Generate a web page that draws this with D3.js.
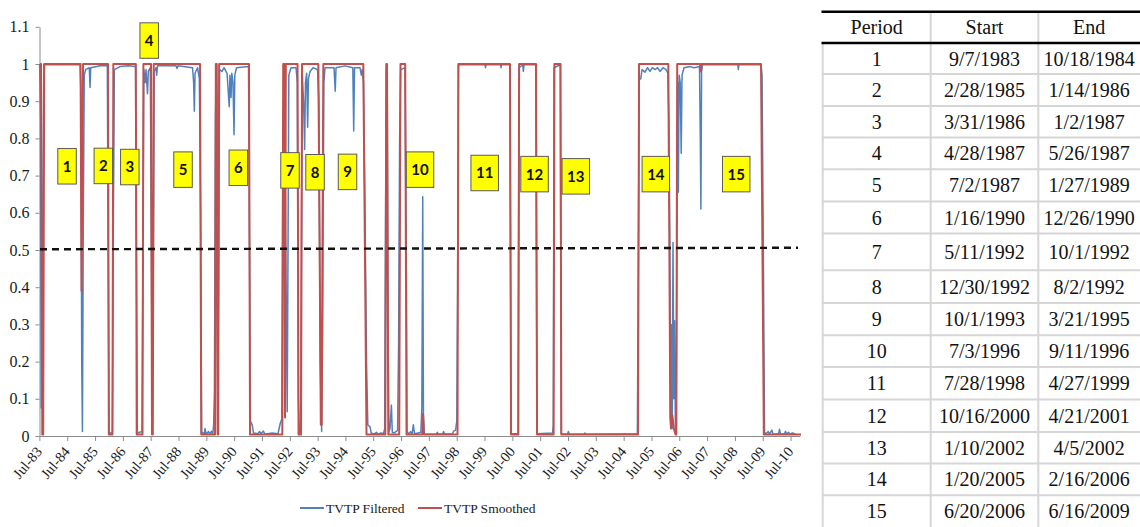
<!DOCTYPE html>
<html><head><meta charset="utf-8">
<script src="https://cdn.jsdelivr.net/npm/d3@7"></script>
<style>body{margin:0;background:#fff}svg{display:block}</style>
</head><body>
<svg id="c" width="1140" height="527"></svg>
<script>
// ---------- data ----------
const yTicks = [0,0.1,0.2,0.3,0.4,0.5,0.6,0.7,0.8,0.9,1,1.1];
const yTickLabels = ["0","0.1","0.2","0.3","0.4","0.5","0.6","0.7","0.8","0.9","1","1.1"];
const xTickYears = [1983,1984,1985,1986,1987,1988,1989,1990,1991,1992,1993,1994,1995,1996,1997,1998,1999,2000,2001,2002,2003,2004,2005,2006,2007,2008,2009,2010];
const xTickLabels = ["Jul-83","Jul-84","Jul-85","Jul-86","Jul-87","Jul-88","Jul-89","Jul-90","Jul-91","Jul-92","Jul-93","Jul-94","Jul-95","Jul-96","Jul-97","Jul-98","Jul-99","Jul-00","Jul-01","Jul-02","Jul-03","Jul-04","Jul-05","Jul-06","Jul-07","Jul-08","Jul-09","Jul-10"];
const xDomainYears = [1983.5, 2010.836];
const seriesNames = ["TVTP Filtered","TVTP Smoothed"];
const seriesColors = ["#4F81BD","#C0504D"];

// [decimal year, probability]
const filtered = [
[1983.504,1],[1983.536,0.84],[1983.561,0.075],[1983.608,0.5],[1983.655,0.998],
[1984.956,0.998],[1984.985,0.93],[1985.017,0.19],[1985.042,0.012],[1985.074,0.6],[1985.107,0.97],[1985.154,0.985],[1985.290,0.99],[1985.315,0.937],[1985.340,0.99],[1985.675,0.995],[1985.937,0.995],[1985.973,0.4],[1985.998,0.006],
[1986.120,0.01],[1986.156,0.6],[1986.189,0.985],[1986.394,0.993],[1986.681,0.995],[1986.951,0.993],[1986.990,0.4],[1987.016,0.008],
[1987.184,0.012],[1987.220,0.5],[1987.249,0.985],[1987.299,0.95],[1987.328,0.985],[1987.382,0.92],[1987.411,0.98],[1987.483,0.99],[1987.522,0.5],[1987.555,0.02],[1987.587,0.4],[1987.623,0.98],
[1987.688,0.99],[1987.713,0.97],[1987.742,0.995],[1988.407,0.995],[1988.442,0.988],[1988.478,0.995],[1989.000,0.99],[1989.039,0.95],[1989.064,0.873],[1989.090,0.975],[1989.179,0.99],[1989.244,0.96],[1989.291,0.6],[1989.327,0.01],
[1989.424,0.006],[1989.449,0.02],[1989.485,0.005],[1989.575,0.012],[1989.629,0.005],[1989.683,0.013],[1989.726,0.005],[1989.758,0.03],[1989.787,0.12],[1989.823,0.85],[1989.855,0.99],[1989.877,0.9],[1989.909,0.03],[1989.938,0.5],[1989.970,0.985],
[1990.060,0.98],[1990.132,0.99],[1990.240,0.975],[1990.319,0.885],[1990.344,0.97],[1990.384,0.91],[1990.412,0.975],[1990.455,0.95],[1990.491,0.81],[1990.520,0.97],[1990.581,0.99],[1991.013,0.993],[1991.049,0.5],[1991.081,0.04],
[1991.146,0.03],[1991.192,0.008],[1991.354,0.006],[1991.408,0.012],[1991.462,0.006],[1991.545,0.013],[1991.606,0.005],[1991.857,0.008],[1992.073,0.006],[1992.156,0.035],[1992.210,0.045],
[1992.253,0.85],[1992.296,0.96],[1992.353,0.5],[1992.404,0.065],[1992.432,0.5],[1992.461,0.97],[1992.540,0.99],[1992.720,0.99],[1992.767,0.95],[1992.803,0.1],[1992.835,0.008],[1992.885,0.012],
[1992.918,0.6],[1992.946,0.97],[1992.990,0.9],[1993.029,0.77],[1993.058,0.95],[1993.101,0.975],[1993.137,0.83],[1993.166,0.96],[1993.223,0.98],[1993.331,0.99],[1993.493,0.985],[1993.540,0.9],[1993.590,0.2],[1993.640,0.012],[1993.676,0.3],[1993.719,0.95],
[1993.762,0.99],[1994.086,0.99],[1994.129,0.927],[1994.158,0.99],[1994.481,0.995],[1994.762,0.99],[1994.794,0.82],[1994.823,0.99],[1995.020,0.99],[1995.067,0.97],[1995.103,0.985],[1995.146,0.95],[1995.200,0.6],[1995.254,0.2],[1995.301,0.03],
[1995.380,0.025],[1995.423,0.008],[1995.524,0.005],[1995.613,0.01],[1995.667,0.004],[1995.775,0.008],[1995.865,0.006],[1995.908,0.02],[1995.941,0.6],[1995.969,0.99],[1995.998,0.98],[1996.027,0.3],[1996.056,0.01],
[1996.099,0.02],[1996.149,0.083],[1996.181,0.01],[1996.243,0.008],[1996.314,0.012],[1996.372,0.015],[1996.408,0.25],[1996.444,0.8],[1996.480,0.985],[1996.638,0.99],[1996.681,0.5],[1996.710,0.012],
[1996.782,0.005],[1996.836,0.012],[1996.890,0.005],[1996.936,0.03],[1996.979,0.006],[1997.105,0.008],[1997.206,0.01],[1997.242,0.075],[1997.274,0.643],[1997.299,0.06],[1997.332,0.005],
[1997.770,0.005],[1997.799,0.01],[1997.831,0.005],[1997.997,0.006],[1998.022,0.012],[1998.058,0.005],[1998.345,0.006],[1998.381,0.013],[1998.453,0.015],[1998.500,0.04],[1998.529,0.4],[1998.557,0.998],
[1999.514,0.998],[1999.532,0.99],[1999.550,0.998],[2000.071,0.998],[2000.089,0.99],[2000.107,0.998],[2000.405,0.998],[2000.455,0.006],[2000.700,0.006],[2000.736,0.99],[2000.872,0.998],[2000.890,0.98],[2000.915,0.998],[2001.340,0.998],[2001.383,0.006],
[2001.940,0.008],[2001.969,0.03],[2001.994,0.99],[2002.220,0.998],[2002.253,0.006],[2002.479,0.005],[2002.508,0.012],[2002.544,0.005],[2003.072,0.005],[2003.108,0.008],[2003.144,0.005],[2004.988,0.006],
[2005.020,0.4],[2005.056,0.96],[2005.110,0.96],[2005.157,0.985],[2005.265,0.978],[2005.355,0.99],[2005.444,0.98],[2005.527,0.99],[2005.624,0.985],[2005.714,0.99],[2005.804,0.98],[2005.912,0.99],[2006.020,0.985],[2006.084,0.975],
[2006.120,0.85],[2006.156,0.52],[2006.185,0.04],[2006.214,0.3],[2006.242,0.02],[2006.271,0.52],[2006.300,0.1],[2006.329,0.31],[2006.358,0.015],[2006.386,0.05],[2006.415,0.6],[2006.437,0.95],[2006.462,0.655],[2006.491,0.97],[2006.530,0.95],[2006.566,0.76],[2006.595,0.97],
[2006.667,0.99],[2006.882,0.993],[2007.026,0.99],[2007.224,0.993],[2007.253,0.8],[2007.274,0.61],[2007.299,0.98],[2007.335,0.998],[2008.601,0.998],[2008.619,0.985],[2008.640,0.998],[2009.434,0.998],[2009.470,0.97],[2009.517,0.5],[2009.560,0.01],
[2009.614,0.006],[2009.693,0.012],[2009.740,0.005],[2009.823,0.016],[2009.866,0.005],[2010.063,0.006],[2010.099,0.018],[2010.135,0.005],[2010.279,0.006],[2010.315,0.013],[2010.351,0.005],[2010.423,0.01],[2010.477,0.005],[2010.567,0.008],[2010.692,0.004]
];

const smoothed = [
[1983.518,1],[1983.554,1],[1983.601,0.004],[1983.633,0.004],[1983.669,1],[1984.974,1],[1985.010,0.39],[1985.064,1],[1985.962,1],[1985.991,0.004],[1986.120,0.004],[1986.153,1],[1986.962,1],[1986.994,0.004],[1987.202,0.004],[1987.235,1],[1987.508,1],[1987.544,0.004],[1987.573,0.004],[1987.605,1],
[1989.269,1],[1989.312,0.004],[1989.808,0.004],[1989.837,1],[1989.870,1],[1989.902,0.004],[1989.923,0.004],[1989.956,1],[1991.031,1],[1991.067,0.004],[1992.228,0.004],[1992.260,1],[1992.299,1],[1992.325,0.05],[1992.353,1],[1992.774,1],[1992.810,0.004],[1992.900,0.004],[1992.936,1],
[1993.522,1],[1993.611,0.03],[1993.640,0.03],[1993.701,1],[1995.139,1],[1995.254,0.004],[1995.930,0.004],[1995.966,1],[1995.991,1],[1996.038,0.004],[1996.430,0.004],[1996.476,1],[1996.645,1],[1996.692,0.004],[1997.256,0.004],[1997.285,0.06],[1997.314,0.004],
[1998.525,0.004],[1998.557,1],[2000.412,1],[2000.448,0.004],[2000.711,0.004],[2000.739,1],[2001.347,1],[2001.383,0.004],[2001.979,0.004],[2002.008,1],[2002.227,1],[2002.256,0.004],[2005.013,0.004],[2005.049,1],
[2006.102,1],[2006.174,0.05],[2006.199,0.02],[2006.246,0.056],[2006.300,0.02],[2006.361,0.004],[2006.390,0.004],[2006.422,1],[2007.242,1],[2007.267,0.98],[2007.296,1],[2009.434,1],[2009.535,0.004],[2010.872,0.004]
];

const threshold = [[1983.518,0.502],[2010.764,0.506]];

const regimeLabels = ["1","2","3","4","5","6","7","8","9","10","11","12","13","14","15"];
const regimeLabelYears = [1984.489,1985.793,1986.746,1987.443,1988.658,1990.646,1992.504,1993.403,1994.571,1997.177,1999.503,2001.293,2002.777,2005.653,2008.543];
const regimeLabelValues = [0.725,0.726,0.723,1.063,0.716,0.721,0.714,0.709,0.710,0.716,0.707,0.704,0.698,0.704,0.704];

const tableHeader = ["Period","Start","End"];
const tablePeriods = ["1","2","3","4","5","6","7","8","9","10","11","12","13","14","15"];
const tableStart = ["9/7/1983","2/28/1985","3/31/1986","4/28/1987","7/2/1987","1/16/1990","5/11/1992","12/30/1992","10/1/1993","7/3/1996","7/28/1998","10/16/2000","1/10/2002","1/20/2005","6/20/2006"];
const tableEnd = ["10/18/1984","1/14/1986","1/2/1987","5/26/1987","1/27/1989","12/26/1990","10/1/1992","8/2/1992","3/21/1995","9/11/1996","4/27/1999","4/21/2001","4/5/2002","2/16/2006","6/16/2009"];

// ---------- helpers ----------
function yearToDate(y){
  const yr = Math.floor(y);
  const a = new Date(yr,0,1).getTime(), b = new Date(yr+1,0,1).getTime();
  return new Date(a + (y-yr)*(b-a));
}

const svg = d3.select("#c");
const serif = "'Liberation Serif','Times New Roman',serif";

const x = d3.scaleTime().domain(xDomainYears.map(yearToDate)).range([39.5, 800]);
const y = d3.scaleLinear().domain([0,1.1]).range([436, 26.8]);

// y axis
const gy = svg.append("g").attr("transform","translate(39.5,0)")
  .call(d3.axisLeft(y).tickValues(yTicks).tickSize(4).tickSizeOuter(0).tickPadding(6)
        .tickFormat((d,i)=>yTickLabels[i]));
gy.select(".domain").attr("stroke","#8c8c8c");
gy.selectAll(".tick line").attr("stroke","#8c8c8c");
gy.selectAll("text").attr("font-family",serif).attr("font-size",16).attr("fill","#1a1a1a");

// x axis
const gx = svg.append("g").attr("transform","translate(0,436)")
  .call(d3.axisBottom(x).tickValues(xTickYears.map(v=>new Date(v,6,1))).tickSize(5).tickSizeOuter(0)
        .tickFormat((d,i)=>xTickLabels[i]));
gx.select(".domain").attr("stroke","#8c8c8c");
gx.selectAll(".tick line").attr("stroke","#8c8c8c");
gx.selectAll("text").attr("font-family",serif).attr("font-size",14.5).attr("fill","#1a1a1a")
  .attr("x",0).attr("y",0).attr("dy",0).attr("text-anchor","end")
  .attr("transform","translate(3,16) rotate(-50)");

// lines
const line = d3.line().x(d=>x(yearToDate(d[0]))).y(d=>y(d[1]));
svg.append("path").datum(filtered).attr("d",line).attr("fill","none")
  .attr("stroke",seriesColors[0]).attr("stroke-width",1.5).attr("stroke-linejoin","round");
svg.append("path").datum(smoothed).attr("d",line).attr("fill","none")
  .attr("stroke",seriesColors[1]).attr("stroke-width",2).attr("stroke-linejoin","round");

// threshold
svg.append("path").datum(threshold).attr("d",line).attr("fill","none")
  .attr("stroke","#111").attr("stroke-width",2.4).attr("stroke-dasharray","7,5");

// regime labels
const lab = svg.append("g").selectAll("g").data(regimeLabels).join("g")
  .attr("transform",(d,i)=>`translate(${x(yearToDate(regimeLabelYears[i]))},${y(regimeLabelValues[i])})`);
lab.append("rect")
  .attr("x",d=>-(9.5+9*d.length)/2).attr("y",-17.75)
  .attr("width",d=>9.5+9*d.length).attr("height",35.5)
  .attr("fill","#ffff00").attr("stroke","#5a5a5a").attr("stroke-width",1);
lab.append("text").text(d=>d).attr("text-anchor","middle").attr("dy","0.36em")
  .attr("font-family","Lato, 'Open Sans', sans-serif").attr("font-weight","bold").attr("font-size",15).attr("fill","#111");

// legend
const legX = [300, 418];
seriesNames.forEach((n,i)=>{
  svg.append("line").attr("x1",legX[i]).attr("x2",legX[i]+24).attr("y1",508).attr("y2",508)
    .attr("stroke",seriesColors[i]).attr("stroke-width",2);
  svg.append("text").attr("x",legX[i]+26).attr("y",508).attr("dy","0.35em").text(n)
    .attr("font-family",serif).attr("font-size",13.5).attr("fill","#1a1a1a");
});

// table
const tb = svg.append("g");
const colEdges = [822.7, 930.7, 1038.3, 1140];
const headTop = 11.7, headBot = 43;
const rowHeights = [31,32,31.5,31.7,32.3,32,36.7,32.7,32.3,31.7,32.6,32.4,31.6,31.7,32];
const rowTops = [];
{ let t = headBot; rowHeights.forEach(h=>{rowTops.push(t); t+=h;}); }
const grey = "#d6d6d6";
rowTops.slice(1).forEach(t=>{
  tb.append("line").attr("x1",colEdges[0]).attr("x2",1140).attr("y1",t).attr("y2",t)
    .attr("stroke",grey).attr("stroke-width",2);
});
tb.append("line").attr("x1",colEdges[0]).attr("x2",colEdges[0]).attr("y1",headBot).attr("y2",527).attr("stroke",grey).attr("stroke-width",2);
[1,2].forEach(k=>{
  tb.append("line").attr("x1",colEdges[k]).attr("x2",colEdges[k]).attr("y1",headTop).attr("y2",527).attr("stroke",grey).attr("stroke-width",2);
});
[headTop, headBot].forEach(t=>{
  tb.append("line").attr("x1",821.5).attr("x2",1140).attr("y1",t).attr("y2",t).attr("stroke","#000").attr("stroke-width",2.6);
});
const colCenters = [0,1,2].map(k=>(colEdges[k]+colEdges[k+1])/2);
tableHeader.forEach((h,k)=>{
  tb.append("text").attr("x",colCenters[k]).attr("y",(headTop+headBot)/2).attr("dy","0.35em")
    .attr("text-anchor","middle").attr("font-family",serif).attr("font-size",20).attr("fill","#111").text(h);
});
tablePeriods.forEach((p,i)=>{
  const cy = rowTops[i] + rowHeights[i]/2;
  [p, tableStart[i], tableEnd[i]].forEach((v,k)=>{
    tb.append("text").attr("x",colCenters[k]).attr("y",cy).attr("dy","0.35em")
      .attr("text-anchor","middle").attr("font-family",serif).attr("font-size",20).attr("fill","#111").text(v);
  });
});
</script>
</body></html>
